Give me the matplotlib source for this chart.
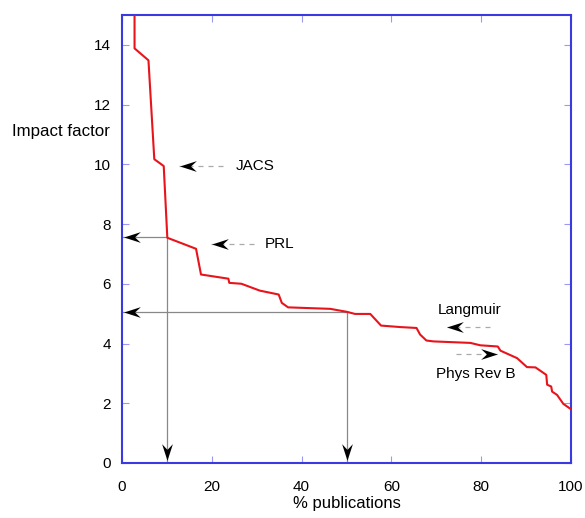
import numpy as np
import matplotlib.pyplot as plt
from matplotlib.path import Path
from matplotlib.transforms import ScaledTranslation

plt.rcParams['font.family'] = ['Liberation Sans', 'DejaVu Sans']

# cumulative % of publications vs impact factor
pct = [2.8, 2.8, 5.9, 7.2, 9.3, 10.1, 16.5, 17.6, 23.7, 23.9, 26.6, 30.7, 34.9,
       35.6, 37.0, 46.4, 50.1, 51.9, 55.3, 57.7, 62.0, 65.6, 66.4, 67.8, 69.4,
       77.6, 79.8, 83.7, 84.3, 88.0, 90.2, 92.1, 94.5, 94.7, 95.6, 95.8, 96.9,
       98.3, 100.0]
impact = [16.0, 13.88, 13.48, 10.17, 9.94, 7.54, 7.17, 6.31, 6.17, 6.03, 6.0,
          5.77, 5.64, 5.36, 5.21, 5.16, 5.06, 4.99, 4.99, 4.60, 4.55, 4.52, 4.30,
          4.10, 4.07, 4.02, 3.94, 3.90, 3.76, 3.51, 3.21, 3.20, 2.95, 2.62, 2.56,
          2.39, 2.28, 1.98, 1.80]

# guide lines: (% publications, impact factor)
guides = [(10.1, 7.55), (50.1, 5.07)]

# journals: name, arrow tail, arrow head, text position
journals = ["JACS", "PRL", "Langmuir", "Phys Rev B"]
tails = [(22.5, 9.93), (29.5, 7.34), (82.0, 4.54), (74.5, 3.66)]
heads = [(12.8, 9.93), (19.9, 7.34), (72.3, 4.54), (83.6, 3.66)]
text_pos = [(25.4, 9.93), (31.9, 7.34), (77.4, 5.13), (78.7, 2.98)]
text_ha = ["left", "left", "center", "center"]


def stealth(angle):
    # concave arrow head centred on the origin, pointing along angle (degrees)
    pts = np.array([[0, 0], [1.3, 0.42], [0.85, 0], [1.3, -0.42], [0, 0]])
    pts[:, 0] -= 0.65
    a = np.radians(angle + 180)
    rot = np.array([[np.cos(a), -np.sin(a)], [np.sin(a), np.cos(a)]])
    return Path(pts @ rot.T, [1, 2, 2, 2, 79])


def head_at(x, y, angle, size=12):
    # shift the marker back so its tip lands on (x, y)
    off = size / 72 / 2
    shift = ScaledTranslation(-np.cos(np.radians(angle)) * off,
                              -np.sin(np.radians(angle)) * off, fig.dpi_scale_trans)
    ax.plot([x], [y], marker=stealth(angle), markersize=size, color="black",
            markeredgewidth=0, zorder=4, transform=ax.transData + shift)


fig = plt.figure(figsize=(5.85, 5.18), dpi=100)
ax = fig.add_axes([0.2085, 0.1062, 0.7675, 0.865])

ax.plot(pct, impact, color="#e8141c", lw=1.5, zorder=3)

for gx, gy in guides:
    ax.plot([0, gx], [gy, gy], color="#888888", lw=0.9, zorder=2)
    ax.plot([gx, gx], [gy, 0], color="#888888", lw=0.9, zorder=2)
    head_at(0.3, gy, 180)
    head_at(gx, 0.1, 270)

for name, t, h, p, ha in zip(journals, tails, heads, text_pos, text_ha):
    ax.plot([t[0], h[0]], [t[1], t[1]], color="#aaaaaa", lw=0.9, ls=(0, (4, 4)))
    head_at(h[0], h[1], 180 if h[0] < t[0] else 0)
    ax.text(p[0], p[1], name, ha=ha, va="center", fontsize=11)

ax.set_xlim(0, 100)
ax.set_ylim(0, 15)
ax.set_xticks(np.arange(0, 101, 20))
ax.set_yticks(np.arange(0, 15, 2))
ax.tick_params(direction="in", top=True, right=True, color="#9a9af0",
               length=5, labelsize=11)
ax.tick_params(axis="x", pad=12)
ax.tick_params(axis="y", pad=8)
for s in ax.spines.values():
    s.set_color("#3a3ae0")
    s.set_linewidth(1.5)

ax.set_xlabel("% publications", fontsize=12, labelpad=2)
ax.text(-0.2447, 11.1 / 15, "Impact factor", transform=ax.transAxes,
        ha="left", va="center", fontsize=12.2)

fig.savefig("out.png", dpi=100)
